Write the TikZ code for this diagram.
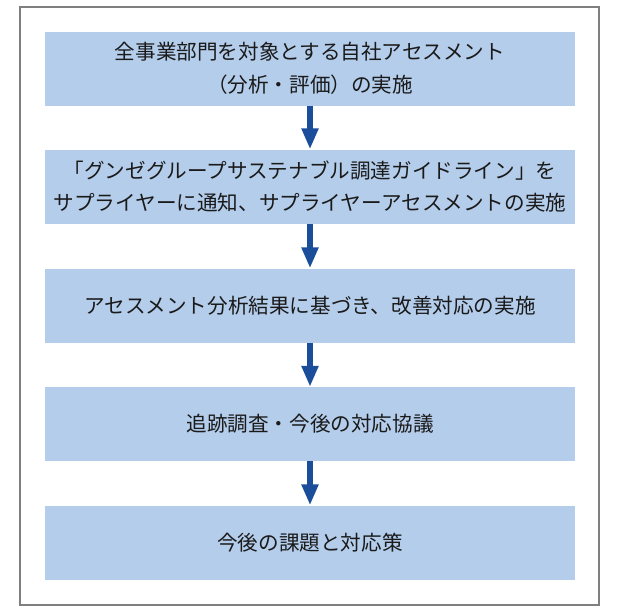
\documentclass[tikz,border=0pt]{standalone}
\usepackage{fontspec}
\setmainfont{Noto Sans CJK JP}
\usetikzlibrary{arrows.meta}
\definecolor{boxfill}{HTML}{B4CDEB}
\definecolor{arrowblue}{HTML}{1A4E9A}
\definecolor{framegray}{HTML}{7F7F7F}
\definecolor{txt}{HTML}{1A1A1A}
\begin{document}
\begin{tikzpicture}[x=1pt,y=-1pt,
  stepbox/.style={rectangle, fill=boxfill, minimum width=530pt, minimum height=74pt, inner sep=0pt, align=center, text=txt, font=\fontsize{20.6pt}{32.5pt}\selectfont},
  flow/.style={arrowblue, line width=6pt, -{Triangle[width=16pt,length=21pt]}}]
\useasboundingbox (0,0) rectangle (620,613);
\draw[framegray, line width=1.3pt] (20,7) rectangle (599,605);
\node[stepbox] (b1) at (310,68.5) {全事業部門を対象とする自社アセスメント\\（分析・評価）の実施};
\node[stepbox] (b2) at (310,186.5) {「グンゼグループサステナブル調達ガイドライン」を\\サプライヤーに通知、サプライヤーアセスメントの実施};
\node[stepbox] (b3) at (310,305.5) {アセスメント分析結果に基づき、改善対応の実施};
\node[stepbox] (b4) at (310,424) {追跡調査・今後の対応協議};
\node[stepbox] (b5) at (310,542.5) {今後の課題と対応策};
\draw[flow] (b1.south) -- (b2.north);
\draw[flow] (b2.south) -- (b3.north);
\draw[flow] (b3.south) -- (b4.north);
\draw[flow] (b4.south) -- (b5.north);
\end{tikzpicture}
\end{document}
